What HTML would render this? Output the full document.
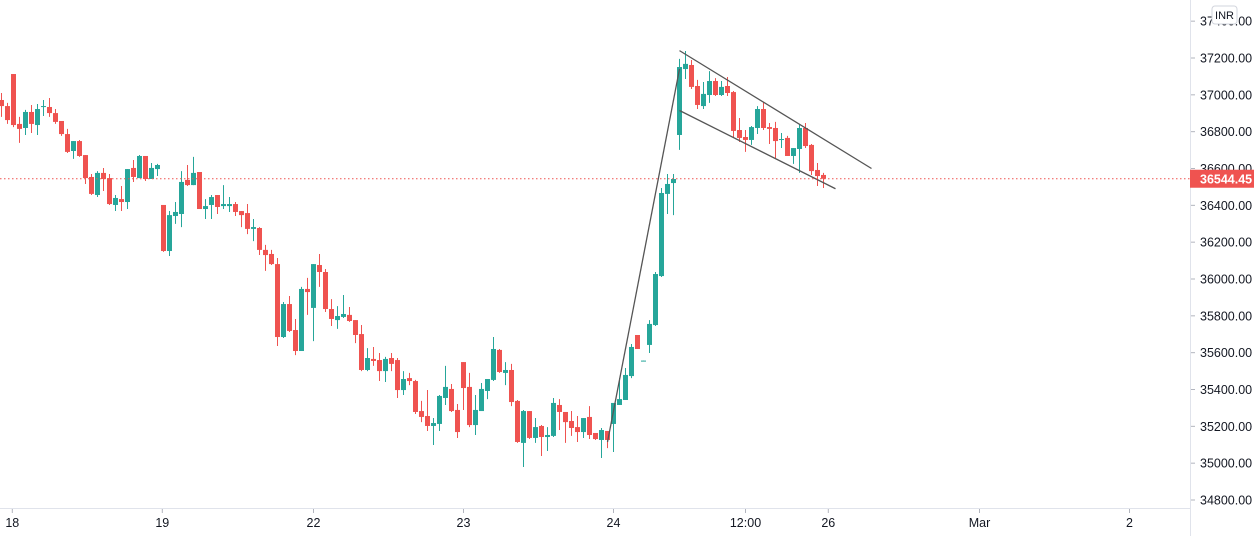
<!DOCTYPE html>
<html><head><meta charset="utf-8">
<style>
html,body{margin:0;padding:0;background:#fff;width:1260px;height:536px;overflow:hidden;font-family:"Liberation Sans",sans-serif;}
svg text{font-family:"Liberation Sans",sans-serif;}
</style></head>
<body>
<svg id="chart" width="1260" height="536" xmlns="http://www.w3.org/2000/svg">
  <g id="candles"></g>
  <g id="drawings"></g>
  <line x1="1190.5" y1="0" x2="1190.5" y2="536" stroke="#e0e3eb"/>
  <line x1="0" y1="508.5" x2="1190" y2="508.5" stroke="#e0e3eb"/>
  <g id="yaxis"></g>
  <g id="xaxis"></g>
</svg>
<script>
const opens  = [36972,36939,37113,36842,36820,36907,36836,36934,36934,36901,36858,36787,36695,36749,36673,36554,36456,36576,36548,36402,36434,36418,36603,36548,36668,36543,36597,36402,36152,36342,36353,36538,36510,36581,36380,36402,36456,36396,36396,36407,36369,36358,36272,36277,36158,36136,36081,35685,35864,35723,35609,35946,35843,36076,36038,35837,35777,35794,35805,35777,35701,35506,35566,35560,35500,35571,35560,35397,35462,35446,35283,35256,35202,35213,35354,35403,35289,35549,35414,35207,35283,35392,35452,35615,35490,35506,35338,35110,35283,35137,35202,35142,35148,35316,35278,35229,35196,35169,35251,35164,35126,35175,35213,35316,35343,35473,35696,35552,35642,35750,36016,36462,36521,36782,37140,37162,37048,36939,36999,37075,36999,37048,37015,36809,36771,36755,36820,36923,36825,36820,36755,36766,36668,36706,36820,36728,36592,36565];
const highs  = [37010,36956,37113,36880,36918,36945,36950,36972,36983,36923,36858,36815,36749,36755,36673,36570,36586,36603,36570,36456,36505,36597,36646,36673,36668,36630,36625,36402,36369,36418,36586,36619,36663,36581,36434,36456,36456,36510,36445,36418,36369,36407,36326,36282,36185,36158,36114,35875,35908,35783,35957,36006,36081,36136,36054,35891,35853,35913,35848,35777,35750,35625,35631,35598,35577,35598,35571,35500,35490,35452,35338,35397,35245,35370,35528,35430,35321,35549,35490,35370,35435,35457,35685,35620,35549,35539,35343,35289,35283,35245,35207,35196,35354,35348,35278,35283,35256,35245,35310,35164,35191,35175,35327,35462,35517,35647,35696,35557,35777,36038,36494,36570,36570,37195,37238,37189,37081,37070,37129,37091,37075,37097,37021,36874,36809,36831,36939,36961,36847,36853,36793,36777,36711,36836,36847,36733,36630,36576];
const lows   = [36880,36842,36825,36739,36782,36793,36782,36885,36880,36842,36777,36684,36652,36663,36516,36456,36445,36478,36402,36369,36369,36380,36527,36548,36532,36543,36559,36147,36125,36299,36282,36505,36510,36380,36326,36326,36353,36380,36364,36342,36282,36244,36206,36130,36044,36076,35636,35680,35712,35587,35609,35805,35663,35957,35821,35745,35729,35788,35767,35652,35500,35500,35528,35446,35441,35500,35354,35370,35424,35267,35223,35175,35099,35175,35316,35278,35137,35289,35196,35153,35283,35348,35446,35490,35424,35310,35110,34979,35131,35110,35039,35066,35142,35180,35110,35148,35115,35137,35131,35126,35028,35082,35061,35316,35343,35462,35620,35552,35598,35745,36011,36353,36347,36701,37086,37032,36923,36923,36956,36994,36994,36994,36771,36744,36690,36728,36787,36809,36733,36657,36711,36668,36625,36576,36711,36565,36505,36494];
const closes = [36939,36863,36836,36815,36907,36842,36923,36939,36901,36853,36787,36690,36749,36668,36548,36462,36576,36543,36407,36440,36418,36597,36554,36668,36543,36603,36619,36152,36347,36364,36527,36510,36576,36380,36396,36445,36391,36407,36407,36364,36347,36272,36282,36158,36130,36081,35685,35864,35718,35609,35946,35929,36081,36038,35837,35783,35799,35810,35772,35696,35506,35571,35555,35500,35566,35539,35397,35457,35446,35278,35251,35202,35218,35365,35414,35283,35169,35408,35207,35289,35403,35457,35620,35495,35506,35332,35115,35283,35137,35196,35142,35153,35327,35278,35223,35191,35169,35245,35153,35131,35180,35126,35327,35348,35479,35631,35620,35557,35756,36027,36467,36516,36543,37151,37168,37043,36945,37005,37075,36999,37043,37010,36804,36766,36755,36825,36923,36820,36815,36749,36760,36668,36711,36820,36722,36586,36559,36544.45];
const priceTicks = [37400,37200,37000,36800,36600,36400,36200,36000,35800,35600,35400,35200,35000,34800];
const timeLabels = ["18","19","22","23","24","12:00","26","Mar","2"];
const timeLabelIdx = [1.8,26.8,52,77,102,124,137.8,163,188];
const lastPrice = 36544.45;
// trend drawings: [startIndex, startPrice, endIndex, endPrice]
const trendLines = [[101,35115,113,37140],[113,37240,145,36600],[113,36915,139,36490]];

const NS="http://www.w3.org/2000/svg";
function yOf(p){return 58+(37200-p)*0.18417;}
function xOf(i){return 1.5+6*i;}
function mk(tag,attrs,parent){const e=document.createElementNS(NS,tag);for(const k in attrs)e.setAttribute(k,attrs[k]);parent.appendChild(e);return e;}
const gC=document.getElementById('candles');
for(let i=0;i<opens.length;i++){
  const up=closes[i]>=opens[i];const col=up?'#26a69a':'#ef5350';
  const x=xOf(i);
  const w=mk('line',{x1:x,x2:x,y1:yOf(highs[i]),y2:yOf(lows[i]),stroke:col,'stroke-width':1},gC);
  
  
  const top=yOf(Math.max(opens[i],closes[i])),bot=yOf(Math.min(opens[i],closes[i]));
  const b=mk('rect',{x:x-2.5,y:top,width:5,height:Math.max(1,bot-top),fill:col},gC);
  
  
}
const gD=document.getElementById('drawings');
trendLines.forEach(t=>{
  const l=mk('line',{x1:xOf(t[0]),y1:yOf(t[1]),x2:xOf(t[2]),y2:yOf(t[3]),stroke:'#555','stroke-width':1.3},gD);
  
  
});
// last price line
const ly=yOf(lastPrice);
const pl=mk('line',{x1:0,x2:1190,y1:ly,y2:ly,stroke:'#ef5350','stroke-dasharray':'1.5 2.5','stroke-width':1},gD);


const gY=document.getElementById('yaxis');
priceTicks.forEach(p=>{
  const y=yOf(p);
  const tk=mk('line',{x1:1191,x2:1195,y1:y,y2:y,stroke:'#b2b5be'},gY);
  
  
  const t=mk('text',{x:1200,y:y+4.5,'font-size':12.5,fill:'#131722'},gY);
  t.textContent=p.toFixed(2);
  
  
});
const lb=mk('rect',{x:1190,y:ly-9,width:64,height:18,fill:'#ef5350'},gY);


const lt=mk('text',{x:1200,y:ly+5,'font-size':12.5,'font-weight':'bold',fill:'#fff'},gY);
lt.textContent=lastPrice.toFixed(2);


const cb=mk('rect',{x:1212,y:6,width:25,height:18,rx:3,fill:'#fff',stroke:'#d1d4dc'},gY);


const ct=mk('text',{x:1224.5,y:19,'font-size':11,'text-anchor':'middle',fill:'#131722'},gY);
ct.textContent='INR';


const gX=document.getElementById('xaxis');
timeLabels.forEach((s,k)=>{
  const x=xOf(timeLabelIdx[k]);
  const tk=mk('line',{x1:x,x2:x,y1:509,y2:513,stroke:'#b2b5be'},gX);
  
  
  const t=mk('text',{x:x,y:527,'font-size':12.5,'text-anchor':'middle',fill:'#131722'},gX);
  t.textContent=s;
  
  
});
</script>
</body></html>
